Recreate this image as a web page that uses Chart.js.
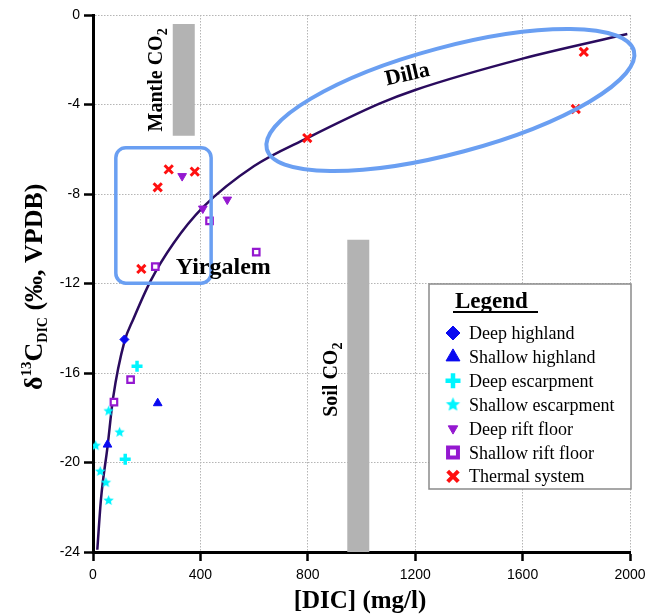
<!DOCTYPE html>
<html>
<head>
<meta charset="utf-8">
<script src="https://cdn.jsdelivr.net/npm/chart.js@4.4.1/dist/chart.umd.min.js"></script>
<style>
    html, body { margin: 0; padding: 0; background: #fff; }
</style>
</head>
<body>
<canvas id="myScatter" width="662" height="614"></canvas>
<script>
// axis ticks
const x_ticks = [0, 400, 800, 1200, 1600, 2000];
const y_ticks = [0, -4, -8, -12, -16, -20, -24];

// [DIC] (mg/l), d13C (permil)
const deep_highland = [[117, -14.5]];
const shallow_highland = [[241, -17.35], [54, -19.2]];
const deep_escarpment = [[164, -15.7], [120, -19.85]];
const shallow_escarpment = [[58, -17.7], [99, -18.65], [10, -19.25], [27, -20.4], [48, -20.9], [58, -21.7]];
const deep_rift_floor = [[332, -7.2], [409, -8.65], [500, -8.25]];
const shallow_rift_floor = [[434, -9.2], [232, -11.25], [608, -10.6], [140, -16.3], [78, -17.3]];
const thermal_system = [[282, -6.9], [241, -7.7], [379, -7.0], [180, -11.35], [798, -5.5], [1828, -1.65], [1798, -4.2]];

// mixing curve
const mixing_curve = [[16, -23.9], [30, -21.6], [54, -19.3], [75, -17.1], [117, -14.6], [150, -13.6], [216, -11.85],
    [300, -10.2], [409, -8.6], [600, -6.75], [798, -5.5], [1069, -3.95], [1200, -3.35], [1600, -1.95], [1990, -0.85]];

// CO2 source ranges: x, top, bottom
const mantle_co2 = [338, -0.4, -5.4];
const soil_co2 = [988, -10.05, -24];

const series_names = ['Deep highland', 'Shallow highland', 'Deep escarpment', 'Shallow escarpment',
    'Deep rift floor', 'Shallow rift floor', 'Thermal system'];

// region marks (data coords)
const dilla_ellipse = {x: 1331, y: -3.8};
const yirgalem_box = {x1: 85, x2: 440, y1: -5.93, y2: -11.99};

const serif = '"Liberation Serif", "Times New Roman", serif';
const sans = '"Liberation Sans", Arial, sans-serif';

function to_xy(list) {
    return list.map(p => ({x: p[0], y: p[1]}));
}

function star_image(r, color) {
    const c = document.createElement('canvas');
    const s = Math.ceil(r * 2) + 2;
    c.width = s;
    c.height = s;
    const g = c.getContext('2d');
    g.fillStyle = color;
    g.beginPath();
    for (let i = 0; i < 10; i++) {
        const rr = i % 2 === 0 ? r : r * 0.45;
        const a = -Math.PI / 2 + i * Math.PI / 5;
        const px = s / 2 + rr * Math.cos(a);
        const py = s / 2 + rr * Math.sin(a);
        if (i === 0) g.moveTo(px, py); else g.lineTo(px, py);
    }
    g.closePath();
    g.fill();
    return c;
}

const blue = '#0a0af0';
const cyan = '#00f5ff';
const purple = '#9418d0';
const red = '#ff1010';

function bar_dataset(bar) {
    return {
        type: 'line',
        data: [{x: bar[0], y: bar[1]}, {x: bar[0], y: bar[2]}],
        borderColor: '#b3b3b3',
        borderWidth: 22,
        borderCapStyle: 'butt',
        pointRadius: 0,
        order: 20
    };
}

function rich_text(ctx, parts, x, y, angle, align) {
    ctx.save();
    ctx.translate(x, y);
    ctx.rotate(angle);
    let total = 0;
    for (const p of parts) {
        ctx.font = p.font;
        p.w = ctx.measureText(p.t).width;
        total += p.w;
    }
    let cx = align === 'center' ? -total / 2 : 0;
    ctx.textAlign = 'left';
    ctx.textBaseline = 'alphabetic';
    ctx.fillStyle = '#000';
    for (const p of parts) {
        ctx.font = p.font;
        ctx.fillText(p.t, cx, p.dy || 0);
        cx += p.w;
    }
    ctx.restore();
}

const marks_plugin = {
    id: 'marks',
    afterDatasetsDraw(chart) {
        const ctx = chart.ctx;
        const xs = chart.scales.x;
        const ys = chart.scales.y;
        ctx.save();
        ctx.strokeStyle = '#6a9ff2';
        // Dilla
        ctx.lineWidth = 4;
        ctx.beginPath();
        ctx.ellipse(xs.getPixelForValue(dilla_ellipse.x), ys.getPixelForValue(dilla_ellipse.y),
            190, 53, -15 * Math.PI / 180, 0, 2 * Math.PI);
        ctx.stroke();
        // Yirgalem
        const l = xs.getPixelForValue(yirgalem_box.x1);
        const r = xs.getPixelForValue(yirgalem_box.x2);
        const t = ys.getPixelForValue(yirgalem_box.y1);
        const b = ys.getPixelForValue(yirgalem_box.y2);
        const rad = 10;
        ctx.lineWidth = 3.5;
        ctx.beginPath();
        ctx.moveTo(l + rad, t);
        ctx.arcTo(r, t, r, b, rad);
        ctx.arcTo(r, b, l, b, rad);
        ctx.arcTo(l, b, l, t, rad);
        ctx.arcTo(l, t, r, t, rad);
        ctx.closePath();
        ctx.stroke();
        ctx.restore();
    },
    afterDraw(chart) {
        const ctx = chart.ctx;
        const xs = chart.scales.x;
        const ys = chart.scales.y;
        const big = 'bold 20px ' + serif;
        const sub = 'bold 14px ' + serif;

        // labels
        ctx.save();
        ctx.fillStyle = '#000';
        ctx.font = 'bold 22px ' + serif;
        ctx.textAlign = 'center';
        ctx.textBaseline = 'middle';
        ctx.translate(xs.getPixelForValue(1171), ys.getPixelForValue(-2.68));
        ctx.rotate(-13 * Math.PI / 180);
        ctx.fillText('Dilla', 0, 0);
        ctx.restore();

        rich_text(ctx, [{t: 'Yirgalem', font: 'bold 24px ' + serif}],
            xs.getPixelForValue(308), ys.getPixelForValue(-11.58), 0, 'left');
        rich_text(ctx, [{t: 'Mantle CO', font: big}, {t: '2', font: sub, dy: 5}],
            xs.getPixelForValue(256), ys.getPixelForValue(-2.9), -Math.PI / 2, 'center');
        rich_text(ctx, [{t: 'Soil CO', font: big}, {t: '2', font: sub, dy: 5}],
            xs.getPixelForValue(909), ys.getPixelForValue(-16.3), -Math.PI / 2, 'center');

        // axis titles
        const yt = 'bold 26px ' + serif;
        rich_text(ctx, [
            {t: 'δ', font: yt},
            {t: '13', font: 'bold 15px ' + serif, dy: -11},
            {t: 'C', font: yt},
            {t: 'DIC', font: 'bold 14px ' + serif, dy: 5},
            {t: ' (‰, VPDB)', font: yt}
        ], 42, 390, -Math.PI / 2, 'left');
        rich_text(ctx, [{t: '[DIC] (mg/l)', font: 'bold 25px ' + serif}], 360, 608, 0, 'center');

        // legend box
        const bx = 429, by = 284, bw = 202, bh = 205;
        ctx.save();
        ctx.fillStyle = '#fff';
        ctx.fillRect(bx, by, bw, bh);
        ctx.strokeStyle = '#8a8a8a';
        ctx.lineWidth = 1.5;
        ctx.strokeRect(bx, by, bw, bh);
        ctx.fillStyle = '#000';
        ctx.font = 'bold 23px ' + serif;
        ctx.textAlign = 'left';
        ctx.textBaseline = 'alphabetic';
        ctx.fillText('Legend', 455, 308);
        ctx.fillRect(453, 311, 85, 2);
        ctx.font = '18px ' + serif;
        chart.data.datasets.forEach((ds, i) => {
            if (!ds.legendStyle) return;
            const base = 339 + i * 23.9;
            ctx.fillStyle = '#000';
            ctx.fillText(ds.label, 469, base);
            const st = ds.legendStyle;
            ctx.save();
            ctx.fillStyle = st.fill;
            ctx.strokeStyle = st.stroke;
            ctx.lineWidth = st.borderWidth;
            Chart.helpers.drawPoint(ctx, {
                pointStyle: st.pointStyle,
                radius: st.radius,
                rotation: st.rotation || 0,
                borderWidth: st.borderWidth
            }, 453, base - 6);
            ctx.restore();
        });
        ctx.restore();
    }
};

const ctx = document.getElementById('myScatter').getContext('2d');

const myScatter = new Chart(ctx, {
    type: 'scatter',
    data: {
        datasets: [
            {
                label: series_names[0],
                data: to_xy(deep_highland),
                pointStyle: 'rectRot', pointRadius: 4.5,
                backgroundColor: blue, borderColor: blue, borderWidth: 1,
                legendStyle: {pointStyle: 'rectRot', radius: 7, fill: blue, stroke: blue, borderWidth: 1}
            },
            {
                label: series_names[1],
                data: to_xy(shallow_highland),
                pointStyle: 'triangle', pointRadius: 5,
                backgroundColor: blue, borderColor: blue, borderWidth: 1,
                legendStyle: {pointStyle: 'triangle', radius: 8, fill: blue, stroke: blue, borderWidth: 1}
            },
            {
                label: series_names[2],
                data: to_xy(deep_escarpment),
                pointStyle: 'cross', pointRadius: 5.5,
                backgroundColor: cyan, borderColor: cyan, borderWidth: 3.5,
                legendStyle: {pointStyle: 'cross', radius: 7.5, fill: cyan, stroke: cyan, borderWidth: 4.5}
            },
            {
                label: series_names[3],
                data: to_xy(shallow_escarpment),
                pointStyle: star_image(5.5, cyan), pointRadius: 5.5,
                legendStyle: {pointStyle: star_image(7.5, cyan), radius: 7.5}
            },
            {
                label: series_names[4],
                data: to_xy(deep_rift_floor),
                pointStyle: 'triangle', pointRadius: 5, rotation: 180,
                backgroundColor: purple, borderColor: purple, borderWidth: 1,
                legendStyle: {pointStyle: 'triangle', radius: 5.5, rotation: 180, fill: purple, stroke: purple, borderWidth: 1}
            },
            {
                label: series_names[5],
                data: to_xy(shallow_rift_floor),
                pointStyle: 'rect', pointRadius: 4.6,
                backgroundColor: '#fff', borderColor: purple, borderWidth: 2.2,
                legendStyle: {pointStyle: 'rect', radius: 7, fill: '#fff', stroke: purple, borderWidth: 4}
            },
            {
                label: series_names[6],
                data: to_xy(thermal_system),
                pointStyle: 'crossRot', pointRadius: 5.8,
                backgroundColor: red, borderColor: red, borderWidth: 3,
                legendStyle: {pointStyle: 'crossRot', radius: 7.5, fill: red, stroke: red, borderWidth: 4}
            },
            {
                type: 'line',
                label: 'mixing',
                data: to_xy(mixing_curve),
                borderColor: '#2a0b5e',
                borderWidth: 2.5,
                pointRadius: 0,
                cubicInterpolationMode: 'monotone',
                order: 10
            },
            bar_dataset(mantle_co2),
            bar_dataset(soil_co2)
        ]
    },
    options: {
        responsive: false,
        animation: false,
        devicePixelRatio: 1,
        layout: {
            padding: {top: 15, right: 32, left: 0, bottom: 0}
        },
        plugins: {
            legend: {display: false},
            tooltip: {enabled: false}
        },
        scales: {
            x: {
                type: 'linear',
                min: x_ticks[0],
                max: x_ticks[x_ticks.length - 1],
                afterBuildTicks: (scale) => { scale.ticks = x_ticks.map(v => ({value: v})); },
                afterFit: (scale) => { scale.height = 62; },
                grid: {color: '#b5b5b5', lineWidth: 1, tickColor: '#000', tickWidth: 2.5, tickLength: 9},
                border: {display: true, color: '#000', width: 3, dash: [1.5, 1.5]},
                ticks: {
                    color: '#000',
                    padding: 6,
                    maxRotation: 0,
                    font: {family: sans, size: 14},
                    callback: (value) => String(value)
                }
            },
            y: {
                type: 'linear',
                min: y_ticks[y_ticks.length - 1],
                max: y_ticks[0],
                afterBuildTicks: (scale) => { scale.ticks = y_ticks.map(v => ({value: v})); },
                afterFit: (scale) => { scale.width = 93; },
                grid: {color: '#b5b5b5', lineWidth: 1, tickColor: '#000', tickWidth: 2.5, tickLength: 9},
                border: {display: true, color: '#000', width: 3, dash: [1.5, 1.5]},
                ticks: {
                    color: '#000',
                    padding: 4,
                    font: {family: sans, size: 14},
                    callback: (value) => String(value)
                }
            }
        }
    },
    plugins: [marks_plugin]
});
</script>
</body>
</html>
